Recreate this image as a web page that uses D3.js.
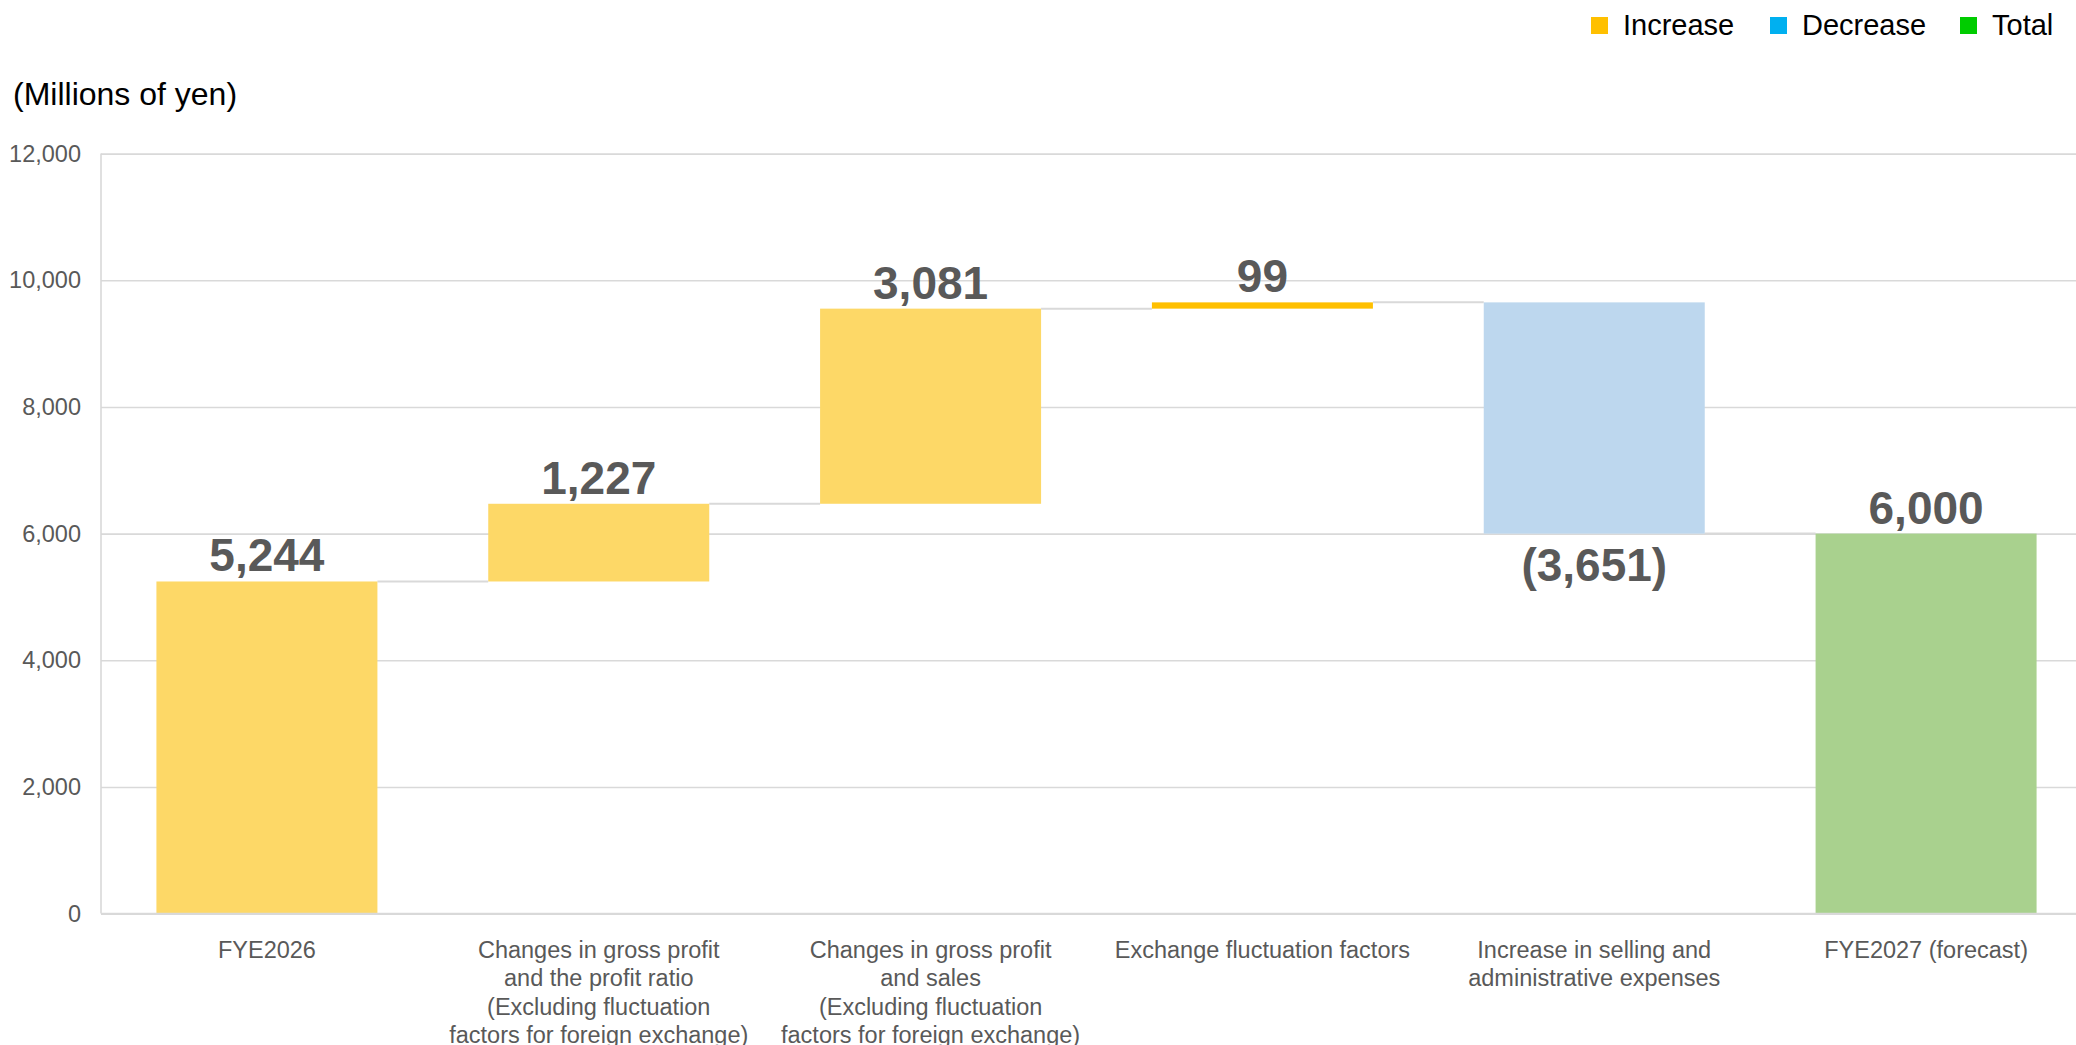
<!DOCTYPE html>
<html>
<head>
<meta charset="utf-8">
<script src="https://cdn.jsdelivr.net/npm/d3@7/dist/d3.min.js"></script>
<style>
  html, body { margin: 0; padding: 0; background: #fff; }
  svg { display: block; }
  text { font-family: "Liberation Sans", Arial, "Helvetica Neue", sans-serif; }
</style>
</head>
<body>
<svg id="chart" width="2076" height="1045"></svg>
<script>
// Operating profit bridge, FYE2026 -> FYE2027 (forecast), millions of yen
const categories = [
  "FYE2026",
  "Changes in gross profit\nand the profit ratio\n(Excluding fluctuation\nfactors for foreign exchange)",
  "Changes in gross profit\nand sales\n(Excluding fluctuation\nfactors for foreign exchange)",
  "Exchange fluctuation factors",
  "Increase in selling and\nadministrative expenses",
  "FYE2027 (forecast)"
];
const values = [5244, 1227, 3081, 99, -3651, 6000];
const kinds = ["increase", "increase", "increase", "increase", "decrease", "total"];
const yTicks = [0, 2000, 4000, 6000, 8000, 10000, 12000];
const legendItems = ["Increase", "Decrease", "Total"];

const legendColor = { increase: "#FFC000", decrease: "#00B0F0", total: "#00CC00" };
const barColor = { increase: "#FDD867", decrease: "#BDD7EE", total: "#A9D18E" };
const legendKey = { Increase: "increase", Decrease: "decrease", Total: "total" };

const svg = d3.select("#chart");
const W = 2076;
const plot = { left: 101, right: 2092, top: 153.6, bottom: 913.6 };

// running start / end of every step
let run = 0;
const steps = values.map((v, i) => {
  let start, end;
  if (kinds[i] === "total") { start = 0; end = v; run = v; }
  else { start = run; end = run + v; run = end; }
  return { i, cat: categories[i], value: v, kind: kinds[i], start, end };
});

const x = d3.scaleBand().domain(d3.range(categories.length))
  .range([plot.left, plot.right]).paddingInner(0.334).paddingOuter(0.167);
const y = d3.scaleLinear().domain([0, 12000]).range([plot.bottom, plot.top]);

// gridlines + y tick labels
const yAxis = svg.append("g")
  .attr("transform", `translate(${plot.left},0)`)
  .call(d3.axisLeft(y).tickValues(yTicks).tickFormat(d3.format(","))
    .tickSize(-(W - plot.left)).tickPadding(20));
yAxis.select(".domain").remove();
yAxis.selectAll(".tick line").attr("stroke", "#D9D9D9").attr("stroke-width", 1.6);
yAxis.selectAll(".tick text").attr("fill", "#595959").style("font-size", "23.5px");

// left plot border
svg.append("line")
  .attr("x1", plot.left).attr("x2", plot.left)
  .attr("y1", plot.top).attr("y2", plot.bottom)
  .attr("stroke", "#D9D9D9").attr("stroke-width", 1.6);

// connectors between consecutive bars
svg.append("g").selectAll("line")
  .data(steps.slice(0, -1))
  .join("line")
  .attr("x1", d => x(d.i) + x.bandwidth())
  .attr("x2", d => x(d.i + 1))
  .attr("y1", d => y(d.end))
  .attr("y2", d => y(d.end))
  .attr("stroke", "#D9D9D9").attr("stroke-width", 2);

// bars (very thin steps use the saturated colour so they stay visible)
svg.append("g").selectAll("rect")
  .data(steps)
  .join("rect")
  .attr("x", d => x(d.i))
  .attr("width", x.bandwidth())
  .attr("y", d => y(Math.max(d.start, d.end)))
  .attr("height", d => Math.abs(y(d.start) - y(d.end)))
  .attr("fill", d => {
    const h = Math.abs(y(d.start) - y(d.end));
    return h < 10 ? legendColor[d.kind] : barColor[d.kind];
  });

// value labels
const fmt = d3.format(",");
svg.append("g").selectAll("text")
  .data(steps)
  .join("text")
  .attr("x", d => x(d.i) + x.bandwidth() / 2)
  .attr("y", d => d.value < 0 ? y(Math.min(d.start, d.end)) + 47 : y(Math.max(d.start, d.end)) - 10)
  .attr("text-anchor", "middle")
  .attr("fill", "#595959")
  .style("font-size", "46px")
  .style("font-weight", "bold")
  .text(d => d.value < 0 ? `(${fmt(-d.value)})` : fmt(d.value));

// x axis baseline
svg.append("line")
  .attr("x1", plot.left).attr("x2", W)
  .attr("y1", plot.bottom).attr("y2", plot.bottom)
  .attr("stroke", "#D9D9D9").attr("stroke-width", 1.6);

// category labels (multi-line)
const xAxis = svg.append("g")
  .attr("transform", `translate(0,${plot.bottom})`)
  .call(d3.axisBottom(x).tickSize(0).tickFormat(i => categories[i]));
xAxis.select(".domain").remove();
xAxis.selectAll(".tick text").each(function(i) {
  const t = d3.select(this);
  const lines = categories[i].split("\n");
  t.text(null).attr("y", 0).attr("dy", null)
    .attr("fill", "#595959").style("font-size", "23.5px");
  lines.forEach((ln, k) => {
    t.append("tspan").attr("x", 0).attr("y", 44 + k * 28.5).text(ln);
  });
});

// unit caption
svg.append("text")
  .attr("x", 13).attr("y", 105)
  .attr("fill", "#000")
  .style("font-size", "32px")
  .text("(Millions of yen)");

// legend
const legendX = [1591, 1770, 1960];
const lg = svg.append("g").selectAll("g")
  .data(legendItems)
  .join("g")
  .attr("transform", (d, k) => `translate(${legendX[k]},0)`);
lg.append("rect")
  .attr("x", 0).attr("y", 17).attr("width", 17).attr("height", 17)
  .attr("fill", d => legendColor[legendKey[d]]);
lg.append("text")
  .attr("x", 32).attr("y", 35)
  .attr("fill", "#000")
  .style("font-size", "29px")
  .text(d => d);
</script>
</body>
</html>
